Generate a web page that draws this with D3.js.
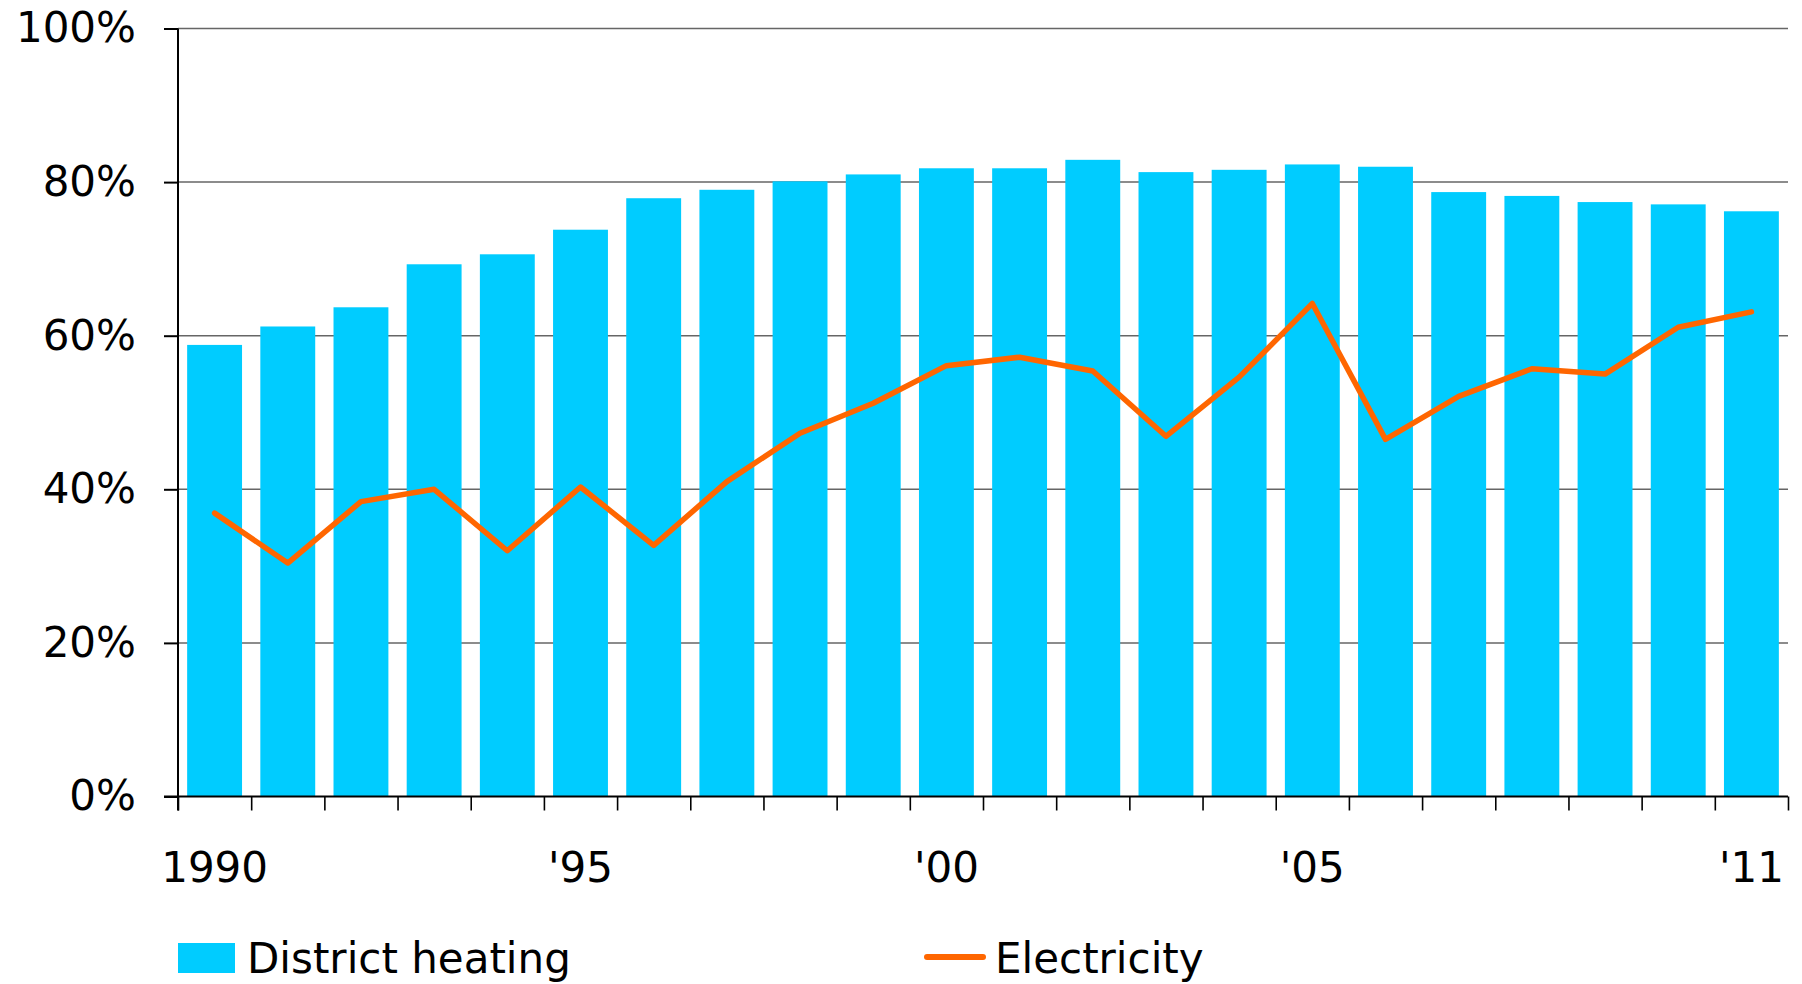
<!DOCTYPE html>
<html>
<head>
<meta charset="utf-8">
<script src="https://cdn.jsdelivr.net/npm/d3@7"></script>
<style>
  html, body { margin: 0; padding: 0; background: #fff; }
  svg { display: block; font-family: "DejaVu Sans", Verdana, sans-serif; }
</style>
</head>
<body>
<div id="chart"></div>
<script>
const years = d3.range(1990, 2012);
const districtHeating = [58.8, 61.2, 63.7, 69.3, 70.6, 73.8, 77.9, 79.0, 80.1, 81.0, 81.8, 81.8,
  82.9, 81.3, 81.6, 82.3, 82.0, 78.7, 78.2, 77.4, 77.1, 76.2];
const electricity = [36.9, 30.4, 38.4, 40.0, 32.0, 40.3, 32.7, 41.0, 47.3, 51.2, 56.1, 57.2,
  55.4, 46.9, 54.6, 64.2, 46.5, 52.1, 55.7, 55.0, 61.1, 63.1];
const yTicks = [0, 20, 40, 60, 80, 100];
const xLabels = { 1990: '1990', 1995: "'95", 2000: "'00", 2005: "'05", 2011: "'11" };

const W = 1802, H = 984;
const margin = { top: 28.5, right: 14, bottom: 187.5, left: 178 };
const innerW = W - margin.left - margin.right;
const innerH = H - margin.top - margin.bottom;

const svg = d3.select('#chart').append('svg')
  .attr('width', W).attr('height', H).attr('viewBox', `0 0 ${W} ${H}`);

const g = svg.append('g').attr('transform', `translate(${margin.left},${margin.top})`);

const x = d3.scaleBand().domain(years).range([0, innerW])
  .paddingInner(0.25).paddingOuter(0.125);
const xEdge = d3.scaleLinear().domain([0, years.length]).range([0, innerW]);
const y = d3.scaleLinear().domain([0, 100]).range([innerH, 0]);

// gridlines
g.append('g').selectAll('line').data(yTicks.filter(d => d > 0)).join('line')
  .attr('x1', 0).attr('x2', innerW)
  .attr('y1', d => y(d)).attr('y2', d => y(d))
  .attr('stroke', '#666').attr('stroke-width', 1.5);

// bars
g.append('g').selectAll('rect').data(years).join('rect')
  .attr('x', d => x(d))
  .attr('y', (d, i) => y(districtHeating[i]))
  .attr('width', x.bandwidth())
  .attr('height', (d, i) => innerH - y(districtHeating[i]))
  .attr('fill', '#00ccff');

// electricity line
const line = d3.line()
  .x((d, i) => x(years[i]) + x.bandwidth() / 2)
  .y(d => y(d));
g.append('path').datum(electricity)
  .attr('d', line)
  .attr('fill', 'none').attr('stroke', '#ff6600')
  .attr('stroke-width', 5.5).attr('stroke-linejoin', 'round').attr('stroke-linecap', 'round');

// y axis
const yAxisG = g.append('g')
  .call(d3.axisLeft(y).tickValues(yTicks).tickSize(14).tickPadding(28)
    .tickFormat(d => d + '%'));
yAxisG.select('.domain').remove();
yAxisG.selectAll('.tick line').attr('stroke', '#000').attr('stroke-width', 2);
yAxisG.selectAll('text').attr('font-size', 42).attr('fill', '#000')
  .attr('font-family', '"DejaVu Sans", Verdana, sans-serif');
g.append('line').attr('x1', 0).attr('x2', 0).attr('y1', 0).attr('y2', innerH + 14)
  .attr('stroke', '#000').attr('stroke-width', 2);

// x axis ticks at band edges
const xTickG = g.append('g').attr('transform', `translate(0,${innerH})`)
  .call(d3.axisBottom(xEdge).tickValues(d3.range(0, years.length + 1)).tickSize(14).tickFormat(''));
xTickG.select('.domain').remove();
xTickG.selectAll('.tick line').attr('stroke', '#000').attr('stroke-width', 1.6);
g.append('line').attr('x1', -14).attr('x2', innerW).attr('y1', innerH).attr('y2', innerH)
  .attr('stroke', '#000').attr('stroke-width', 2);

// x axis labels
const xLabG = g.append('g').attr('transform', `translate(0,${innerH})`)
  .call(d3.axisBottom(x).tickValues(Object.keys(xLabels).map(Number))
    .tickSize(0).tickPadding(56).tickFormat(d => xLabels[d]));
xLabG.select('.domain').remove();
xLabG.selectAll('text').attr('font-size', 42).attr('fill', '#000')
  .attr('font-family', '"DejaVu Sans", Verdana, sans-serif');

// legend
const leg = svg.append('g');
leg.append('rect').attr('x', 178).attr('y', 943).attr('width', 57).attr('height', 30)
  .attr('fill', '#00ccff');
leg.append('text').attr('x', 247).attr('y', 973).attr('font-size', 42).attr('fill', '#000')
  .text('District heating');
leg.append('line').attr('x1', 927).attr('x2', 983).attr('y1', 957).attr('y2', 957)
  .attr('stroke', '#ff6600').attr('stroke-width', 6).attr('stroke-linecap', 'round');
leg.append('text').attr('x', 995).attr('y', 973).attr('font-size', 42).attr('fill', '#000')
  .text('Electricity');
</script>
</body>
</html>
